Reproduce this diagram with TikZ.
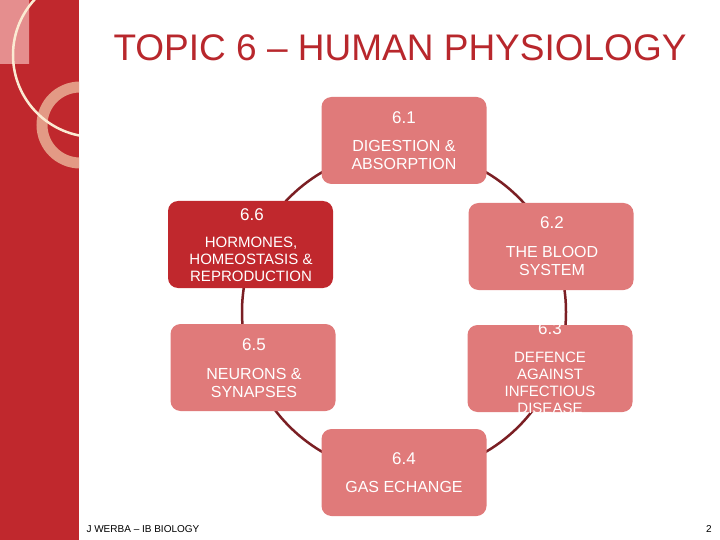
\documentclass[tikz,border=0pt]{standalone}
\usepackage{fontspec}
\setmainfont{Liberation Sans}
\definecolor{barred}{HTML}{C0282D}
\definecolor{nodepink}{HTML}{E07A7A}
\definecolor{ringc}{HTML}{7B1F24}
\definecolor{titlec}{HTML}{B8272C}
\definecolor{creamc}{HTML}{FBEBD3}
\definecolor{ringpink}{HTML}{E39A85}
\begin{document}
\begin{tikzpicture}[x=1pt,y=-1pt,
  topic/.style={draw=none,fill=nodepink,rounded corners=10pt,minimum width=165pt,minimum height=87pt,text=white,align=center,font=\fontsize{16}{18}\selectfont},
  num/.style={text=white,font=\fontsize{17}{19}\selectfont}]
\useasboundingbox (0,0) rectangle (720,540);
\fill[white] (0,0) rectangle (720,540);
% sidebar
\begin{scope}
\clip (0,0) rectangle (79,540);
\fill[barred] (0,0) rectangle (79,540);
\fill[nodepink!85!white] (0,0) -- (64,0) arc[start angle=0,end angle=-60,radius=70] |- (0,64) -- cycle;
\draw[ringpink,line width=11pt] (80,125) circle[radius=38];
\draw[creamc,line width=2.5pt] (95,55) circle[radius=82];
\end{scope}
% title
\node[text=titlec,font=\fontsize{37}{40}\selectfont,anchor=center] (title) at (400,48) {TOPIC 6 – HUMAN PHYSIOLOGY};
% ring
\draw[ringc,line width=2.5pt] (404,312) circle[radius=162];
% nodes
\node[topic] (n61) at (404,140.5) {};
\node[topic,fill=barred] (n66) at (250.5,244.5) {};
\node[topic] (n62) at (551,246.5) {};
\node[topic] (n65) at (253,367.5) {};
\node[topic] (n63) at (550,368.5) {};
\node[topic] (n64) at (404,472.5) {};
\node[num] at (404,118) {6.1};
\node[font=\fontsize{16}{18}\selectfont,text=white,align=center] at (404,155) {DIGESTION \&\\ABSORPTION};
\node[num] at (252,215) {6.6};
\node[font=\fontsize{15}{17}\selectfont,text=white,align=center] at (251,259) {HORMONES,\\HOMEOSTASIS \&\\REPRODUCTION};
\node[num] at (552,223) {6.2};
\node[font=\fontsize{16}{18}\selectfont,text=white,align=center] at (552,261) {THE BLOOD\\SYSTEM};
\node[num] at (254,345) {6.5};
\node[font=\fontsize{16}{18}\selectfont,text=white,align=center] at (254,383) {NEURONS \&\\SYNAPSES};
\begin{scope}
\clip[rounded corners=10pt] (467,325) rectangle (633,412);
\node[num] at (550,329) {6.3};
\node[font=\fontsize{15}{17}\selectfont,text=white,align=center] at (550,383) {DEFENCE\\AGAINST\\INFECTIOUS\\DISEASE};
\end{scope}
\node[num] at (404,459) {6.4};
\node[font=\fontsize{16}{18}\selectfont,text=white] at (404,487) {GAS ECHANGE};
% footer
\node[anchor=west,font=\fontsize{10}{12}\selectfont] (foot) at (83,529) {J WERBA – IB BIOLOGY};
\node[font=\fontsize{10}{12}\selectfont] (pg) at (709,529) {2};
\end{tikzpicture}
\end{document}
